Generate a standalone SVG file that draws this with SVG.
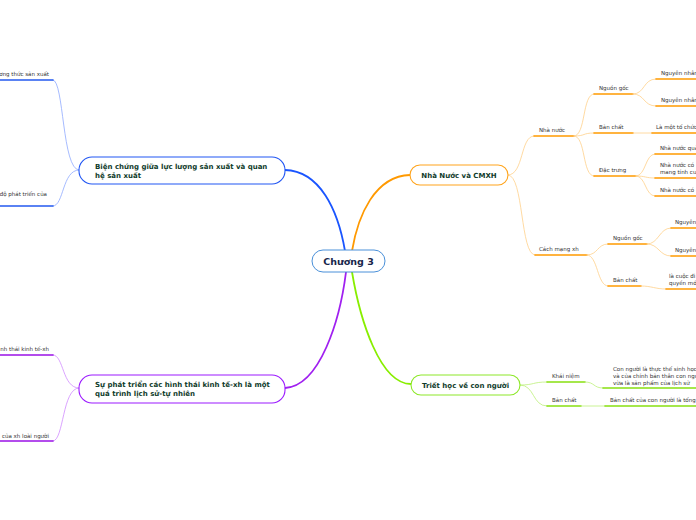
<svg xmlns="http://www.w3.org/2000/svg" width="696" height="520" viewBox="0 0 696 520">
<style>
text{font-family:"DejaVu Sans","Liberation Sans",sans-serif}
.leaf{font-size:5.5px;fill:#333}
.nt{font-size:7px;font-weight:bold;fill:#0f3b2b}
.c{fill:none;stroke-linecap:round}
.bl{stroke:#8fa9ff;stroke-width:0.8}
.blu{stroke:#2459f0;stroke-width:1.6}
.pl{stroke:#d08cff;stroke-width:0.8}
.plu{stroke:#9a12e6;stroke-width:1.6}
.ol{stroke:#ffd08a;stroke-width:0.8}
.olu{stroke:#ff9a00;stroke-width:1.6}
.gl{stroke:#bdf07a;stroke-width:0.8}
.glu{stroke:#88e010;stroke-width:1.6}
</style>
<rect width="696" height="520" fill="#fff"/>
<g id="connectors">
  <path class="c" d="M345,251 C338,210 320,171 285,170" stroke="#1a55ff" stroke-width="1.8"/>
  <path class="c" d="M352,251 C358,215 375,176 410,175" stroke="#ff9900" stroke-width="1.8"/>
  <path class="c" d="M346,272 C340,320 320,386 285,388" stroke="#a020f0" stroke-width="1.8"/>
  <path class="c" d="M352,272 C360,320 380,384 411,384" stroke="#88ee00" stroke-width="1.8"/>
  <path class="c bl" d="M79,170 C62,170 64,80 53,80"/>
  <path class="c bl" d="M79,170 C62,170 64,206 53,206"/>
  <path class="c blu" d="M0,80 H53"/>
  <path class="c blu" d="M0,206 H53"/>
  <path class="c pl" d="M79,388 C62,388 64,355 53,355"/>
  <path class="c pl" d="M79,388 C62,388 64,441 53,441"/>
  <path class="c plu" d="M0,355 H53"/>
  <path class="c plu" d="M0,441 H53"/>
  <path class="c ol" d="M508,175 C524,175 520,136 534,136"/>
  <path class="c ol" d="M508,175 C524,175 520,255 535,255"/>
  <path class="c olu" d="M534,136 H574"/>
  <path class="c olu" d="M535,255 H587"/>
  <path class="c ol" d="M574,136 C586,136 582,94 594,94"/>
  <path class="c ol" d="M574,136 C586,136 582,133 594,133"/>
  <path class="c ol" d="M574,136 C586,136 582,176 594,176"/>
  <path class="c olu" d="M594,94 H633"/>
  <path class="c olu" d="M594,133 H633"/>
  <path class="c olu" d="M594,176 H636"/>
  <path class="c ol" d="M633,94 C645,94 643,79 656,79"/>
  <path class="c ol" d="M633,94 C645,94 643,106 656,106"/>
  <path class="c olu" d="M656,79 H696"/>
  <path class="c olu" d="M656,106 H696"/>
  <path class="c ol" d="M633,133 H652"/>
  <path class="c olu" d="M652,133 H696"/>
  <path class="c ol" d="M636,176 C646,176 645,154 655,154"/>
  <path class="c ol" d="M636,176 C646,176 645,178 655,178"/>
  <path class="c ol" d="M636,176 C646,176 645,196 655,196"/>
  <path class="c olu" d="M655,154 H696"/>
  <path class="c olu" d="M655,178 H696"/>
  <path class="c olu" d="M655,196 H696"/>
  <path class="c ol" d="M587,255 C598,255 597,244 608,244"/>
  <path class="c ol" d="M587,255 C598,255 597,286 608,286"/>
  <path class="c olu" d="M608,244 H647"/>
  <path class="c olu" d="M608,286 H641"/>
  <path class="c ol" d="M647,244 C659,244 659,228 671,228"/>
  <path class="c ol" d="M647,244 C659,244 659,256 671,256"/>
  <path class="c olu" d="M671,228 H696"/>
  <path class="c olu" d="M671,256 H696"/>
  <path class="c ol" d="M641,286 C652,286 655,289 666,289"/>
  <path class="c olu" d="M666,289 H696"/>
  <path class="c gl" d="M520,385 C535,385 532,382 547,382"/>
  <path class="c gl" d="M520,385 C535,385 532,406 547,406"/>
  <path class="c glu" d="M547,382 H585"/>
  <path class="c glu" d="M547,406 H581"/>
  <path class="c gl" d="M585,382 C595,382 593,388 603,388"/>
  <path class="c glu" d="M603,388 H696"/>
  <path class="c gl" d="M581,406 H605"/>
  <path class="c glu" d="M605,406 H696"/>
</g>
<g id="center">
  <rect x="312" y="250" width="73" height="22" rx="11" fill="#fff" stroke="#4a90d9" stroke-width="1"/>
  <text x="348.5" y="264.5" text-anchor="middle" font-size="9.5" font-weight="bold" fill="#17264a">Chương 3</text>
</g>
<g id="node-bien-chung">
  <rect x="79" y="157" width="206" height="27" rx="13" fill="#fff" stroke="#2156f3" stroke-width="1.1"/>
  <text class="nt" x="95" y="168.5">Biện chứng giữa lực lượng sản xuất và quan</text>
  <text class="nt" x="95" y="178">hệ sản xuất</text>
</g>
<g id="node-su-phat-trien">
  <rect x="79" y="375" width="206" height="28" rx="13" fill="#fff" stroke="#9b1aff" stroke-width="1.1"/>
  <text class="nt" x="95" y="386.5">Sự phát triển các hình thái kinh tế-xh là một</text>
  <text class="nt" x="95" y="396">quá trình lịch sử-tự nhiên</text>
</g>
<g id="node-nha-nuoc-cmxh">
  <rect x="410" y="165" width="98" height="20" rx="10" fill="#fff" stroke="#ffa41c" stroke-width="1.1"/>
  <text class="nt" x="459" y="177.5" text-anchor="middle">Nhà Nước và CMXH</text>
</g>
<g id="node-triet-hoc">
  <rect x="411" y="375" width="109" height="20" rx="10" fill="#fff" stroke="#8ee82a" stroke-width="1.1"/>
  <text class="nt" x="465.5" y="387.5" text-anchor="middle">Triết học về con người</text>
</g>
<g id="left-leaves">
  <text class="leaf" x="49" y="76" text-anchor="end">ương thức sản xuất</text>
  <text class="leaf" x="47" y="196" text-anchor="end">độ phát triển của</text>
  <text class="leaf" x="49" y="351" text-anchor="end">nh thái kinh tế-xh</text>
  <text class="leaf" x="49" y="438" text-anchor="end">của xh loài người</text>
</g>
<g id="nha-nuoc">
  <text class="leaf" x="539" y="132">Nhà nước</text>
  <text class="leaf" x="599" y="90">Nguồn gốc</text>
  <text class="leaf" x="661" y="75">Nguyên nhân</text>
  <text class="leaf" x="661" y="102">Nguyên nhân</text>
  <text class="leaf" x="599" y="129">Bản chất</text>
  <text class="leaf" x="656" y="129">Là một tổ chức</text>
  <text class="leaf" x="599" y="172">Đặc trưng</text>
  <text class="leaf" x="660" y="150">Nhà nước quản</text>
  <text class="leaf" x="660" y="167">Nhà nước có</text>
  <text class="leaf" x="660" y="174">mang tính cu</text>
  <text class="leaf" x="660" y="192">Nhà nước có</text>
</g>
<g id="cach-mang">
  <text class="leaf" x="539" y="251">Cách mạng xh</text>
  <text class="leaf" x="613" y="240">Nguồn gốc</text>
  <text class="leaf" x="675" y="224">Nguyên</text>
  <text class="leaf" x="675" y="252">Nguyên</text>
  <text class="leaf" x="613" y="282">Bản chất</text>
  <text class="leaf" x="669" y="278">là cuộc đi</text>
  <text class="leaf" x="669" y="285">quyền mớ</text>
</g>
<g id="con-nguoi">
  <text class="leaf" x="552" y="378">Khái niệm</text>
  <text class="leaf" x="613" y="371">Con người là thực thể sinh học</text>
  <text class="leaf" x="613" y="378">và của chính bản thân con ngư</text>
  <text class="leaf" x="613" y="385">vừa là sản phẩm của lịch sử</text>
  <text class="leaf" x="552" y="402">Bản chất</text>
  <text class="leaf" x="610" y="402">Bản chất của con người là tổng</text>
</g>
</svg>
